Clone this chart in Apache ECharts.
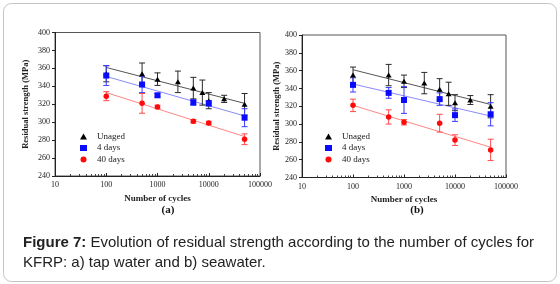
<!DOCTYPE html>
<html>
<head>
<meta charset="utf-8">
<script src="https://cdn.jsdelivr.net/npm/echarts@6/dist/echarts.min.js"></script>
<style>
  html, body { margin: 0; padding: 0; background: #fff; }
  #chart { width: 560px; height: 284px; }
</style>
</head>
<body>
<div id="chart"></div>
<script>
// tick labels
const xTicks = [10, 100, 1000, 10000, 100000];
const yTicks = [240, 260, 280, 300, 320, 340, 360, 380, 400];

// cycles tested
const unagedCycles = [100, 500, 1000, 2500, 5000, 7500, 10000, 20000, 50000];
const agedCycles = [100, 500, 1000, 5000, 10000, 50000];
const fitCycles = [100, 50000];

// (a) tap water
const unagedA = [354, 354, 348, 345, 338, 333, 324, 326, 320];
const unagedErrA = [9, 12, 7, 12, 12, 14, 9, 4, 12];
const days4A = [352, 342, 330, 322, 321, 305];
const days4ErrA = [11, 9, 2, 3, 3, 10];
const days40A = [329, 321, 317, 301, 299, 281];
const days40ErrA = [5, 11, 2, 2, 2, 6];
const fitUnagedA = [361, 321];
const fit4A = [351, 307];
const fit40A = [333, 284];

// (b) seawater
const unagedB = [355, 355, 348, 346, 339, 334, 324, 327, 320];
const unagedErrB = [9, 12, 7, 12, 12, 13, 9, 5, 13];
const days4B = [344, 335, 327, 328, 310, 311];
const days4ErrB = [8, 6, 15, 7, 7, 13];
const days40B = [321, 308, 302, 301, 282, 271];
const days40ErrB = [7, 8, 3, 10, 6, 12];
const fitUnagedB = [361, 322];
const fit4B = [345, 309];
const fit40B = [321, 274];

const serif = "'Liberation Serif', 'DejaVu Serif', serif";
const sans = "'Liberation Sans', Arial, sans-serif";

const names = ['Unaged', '4 days', '40 days'];
const markColors = ['#000000', '#0a0aff', '#ff0a0a'];
const barColors = ['#2a2a2a', '#3a3aff', '#ff4a4a'];
const fitColors = ['#555555', '#8a8aff', '#ff8585'];
const symbols = ['triangle', 'rect', 'circle'];
const symbolSizes = [[6, 5], 6, 5.5];

function errorSeries(idx, cycles, vals, errs, color) {
    return {
        type: 'custom',
        name: 'err' + idx,
        xAxisIndex: idx, yAxisIndex: idx,
        z: 2,
        silent: true,
        encode: { x: 0, y: [1, 2] },
        data: cycles.map((c, i) => [c, vals[i] - errs[i], vals[i] + errs[i]]),
        renderItem: function (params, api) {
            const lo = api.coord([api.value(0), api.value(1)]);
            const hi = api.coord([api.value(0), api.value(2)]);
            const w = 3;
            const style = { stroke: color, lineWidth: 1 };
            return {
                type: 'group',
                children: [
                    { type: 'line', shape: { x1: lo[0], y1: lo[1], x2: hi[0], y2: hi[1] }, style: style },
                    { type: 'line', shape: { x1: lo[0] - w, y1: lo[1], x2: lo[0] + w, y2: lo[1] }, style: style },
                    { type: 'line', shape: { x1: hi[0] - w, y1: hi[1], x2: hi[0] + w, y2: hi[1] }, style: style }
                ]
            };
        }
    };
}

function panelSeries(idx, sets) {
    let out = [];
    sets.forEach((s, k) => {
        out.push({
            type: 'line',
            name: 'fit' + k,
            xAxisIndex: idx, yAxisIndex: idx,
            data: fitCycles.map((c, i) => [c, s.fit[i]]),
            symbol: 'none',
            silent: true,
            z: 1,
            lineStyle: { color: fitColors[k], width: 1 }
        });
        out.push(errorSeries(idx, s.cycles, s.vals, s.errs, barColors[k]));
        out.push({
            type: 'scatter',
            name: names[k],
            xAxisIndex: idx, yAxisIndex: idx,
            data: s.cycles.map((c, i) => [c, s.vals[i]]),
            symbol: symbols[k],
            symbolSize: symbolSizes[k],
            z: 3,
            itemStyle: { color: markColors[k], opacity: 1 }
        });
    });
    return out;
}

function xAxisOf(idx) {
    return {
        gridIndex: idx,
        type: 'log',
        logBase: 10,
        min: xTicks[0],
        max: xTicks[xTicks.length - 1],
        name: 'Number of cycles',
        nameLocation: 'middle',
        nameGap: 17,
        nameTextStyle: { fontFamily: serif, fontSize: 9, fontWeight: 'bold', color: '#222' },
        axisLine: { lineStyle: { color: '#222', width: 1 } },
        axisTick: { inside: true, length: 3, lineStyle: { color: '#222' } },
        minorTick: { show: true, splitNumber: 9, length: 2, lineStyle: { color: '#444' } },
        splitLine: { show: false },
        axisLabel: {
            fontFamily: serif, fontSize: 8, color: '#222', margin: 5,
            formatter: v => String(Math.round(v))
        }
    };
}

function yAxisOf(idx, gap) {
    return {
        gridIndex: idx,
        type: 'value',
        min: yTicks[0],
        max: yTicks[yTicks.length - 1],
        interval: 20,
        name: 'Residual strength (MPa)',
        nameLocation: 'middle',
        nameRotate: 90,
        nameGap: gap,
        nameTextStyle: { fontFamily: serif, fontSize: 8.5, fontWeight: 'bold', color: '#222' },
        axisLine: { show: true, lineStyle: { color: '#222', width: 1 } },
        axisTick: { show: true, length: 3, lineStyle: { color: '#222' } },
        splitLine: { show: false },
        axisLabel: { fontFamily: serif, fontSize: 8, color: '#222', margin: 5 }
    };
}

function legendOf(left, top) {
    return {
        orient: 'vertical',
        left: left, top: top,
        data: names,
        itemWidth: 7, itemHeight: 6,
        itemGap: 2.5,
        selectedMode: false,
        textStyle: { fontFamily: serif, fontSize: 9, color: '#222', padding: [0, 0, 0, 5] }
    };
}

const chart = echarts.init(document.getElementById('chart'), null, { renderer: 'canvas' });

const option = {
    animation: false,
    backgroundColor: '#fff',
    grid: [
        { left: 55, right: 300, top: 32.5, bottom: 108, show: true, borderColor: '#555', borderWidth: 1 },
        { left: 302, right: 54, top: 35, bottom: 106.5, show: true, borderColor: '#555', borderWidth: 1 }
    ],
    xAxis: [xAxisOf(0), xAxisOf(1)],
    yAxis: [yAxisOf(0, 25), yAxisOf(1, 21)],
    legend: [legendOf(75, 127), legendOf(320, 127)],
    series: [].concat(
        panelSeries(0, [
            { cycles: unagedCycles, vals: unagedA, errs: unagedErrA, fit: fitUnagedA },
            { cycles: agedCycles, vals: days4A, errs: days4ErrA, fit: fit4A },
            { cycles: agedCycles, vals: days40A, errs: days40ErrA, fit: fit40A }
        ]),
        panelSeries(1, [
            { cycles: unagedCycles, vals: unagedB, errs: unagedErrB, fit: fitUnagedB },
            { cycles: agedCycles, vals: days4B, errs: days4ErrB, fit: fit4B },
            { cycles: agedCycles, vals: days40B, errs: days40ErrB, fit: fit40B }
        ])
    ),
    graphic: [
        {
            type: 'rect', silent: true,
            shape: { x: 3.5, y: 3.5, width: 553, height: 278, r: 8 },
            style: { fill: 'none', stroke: '#c4c4c4', lineWidth: 1 }
        },
        {
            type: 'text', x: 168, y: 210,
            style: { text: '(a)', font: "bold 11px 'Liberation Serif'", fill: '#111', align: 'center', verticalAlign: 'middle' }
        },
        {
            type: 'text', x: 417, y: 210,
            style: { text: '(b)', font: "bold 11px 'Liberation Serif'", fill: '#111', align: 'center', verticalAlign: 'middle' }
        },
        {
            type: 'text', x: 23, y: 232.5,
            style: {
                text: '{b|Figure 7:} Evolution of residual strength according to the number of cycles for\nKFRP: a) tap water and b) seawater.',
                fontFamily: sans, fontSize: 15, lineHeight: 20.5, fill: '#222',
                rich: { b: { fontFamily: sans, fontSize: 15, fontWeight: 'bold', lineHeight: 20.5, fill: '#222' } }
            }
        }
    ]
};

chart.setOption(option);
</script>
</body>
</html>
